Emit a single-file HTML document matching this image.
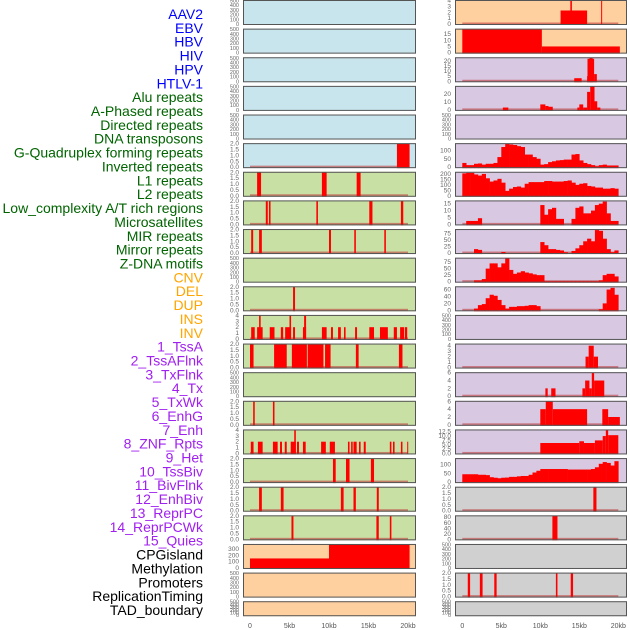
<!DOCTYPE html>
<html><head><meta charset="utf-8"><style>
html,body{margin:0;padding:0;background:#fff;width:630px;height:630px;overflow:hidden}
svg{display:block;font-family:"Liberation Sans",sans-serif}
</style></head><body>
<svg id="chart" width="630" height="630"></svg>
<script>
// labels
const trackLabels=["AAV2","EBV","HBV","HIV","HPV","HTLV-1","Alu repeats","A-Phased repeats","Directed repeats","DNA transposons","G-Quadruplex forming repeats","Inverted repeats","L1 repeats","L2 repeats","Low_complexity A/T rich regions","Microsatellites","MIR repeats","Mirror repeats","Z-DNA motifs","CNV","DEL","DUP","INS","INV","1_TssA","2_TssAFlnk","3_TxFlnk","4_Tx","5_TxWk","6_EnhG","7_Enh","8_ZNF_Rpts","9_Het","10_TssBiv","11_BivFlnk","12_EnhBiv","13_ReprPC","14_ReprPCWk","15_Quies","CPGisland","Methylation","Promoters","ReplicationTiming","TAD_boundary"];
const labelGroups=["v","v","v","v","v","v","r","r","r","r","r","r","r","r","r","r","r","r","r","s","s","s","s","s","c","c","c","c","c","c","c","c","c","c","c","c","c","c","c","o","o","o","o","o"];
const xTickKb=[0,5,10,15,20];
const xTickLabels=["0","5kb","10kb","15kb","20kb"];
// y tick sets
const T500=[0,100,200,300,400,500], T2=[0,0.5,1,1.5,2], T4=[0,1,2,3,4];
// left column y axes (max, ticks) per row
const leftMax=[500,500,500,500,500,2,2,2,2,500,2,4,2,500,2,4,2,2,2,370,500,500];
// left segments [startKb,endKb,value]
const segL5=[[18.6,20.2,2]];
const segL6=[[0.9,1.4,2],[9.1,9.7,2],[13.5,14.0,2]];
const segL7=[[2.0,2.25,2],[2.4,2.6,2],[8.4,8.6,2],[15.1,15.5,2],[19.1,19.4,2]];
const segL8=[[0.15,0.4,2],[1.15,1.5,2],[10,10.25,2],[13.2,13.4,2],[17,17.2,2]];
const segL10=[[5.45,5.7,2]];
const segL11=[[0.15,0.6,2],[0.9,1.6,2],[1.15,1.35,4],[2.5,3.1,2],[3.9,4.2,2],[4.45,5.2,2],[5.0,5.2,4],[5.45,5.7,2],[6.7,7.1,2],[6.85,7.1,4],[9.1,9.7,2],[10.25,10.5,2],[11.15,11.5,2],[11.9,12.1,2],[13.3,13.55,2],[15.1,15.7,2],[16.45,17.45,2],[18.2,18.6,2],[19,19.5,2],[19.6,19.9,2]];
const segL12=[[0,0.45,2],[3.05,4.65,2],[5.3,7.2,2],[7.3,9.3,2],[9.5,10.2,2],[13.4,13.75,2],[18.85,19.3,2]];
const segL14=[[0.4,0.6,2],[2.9,3.1,2]];
const segL15=[[0.1,0.45,2],[1,1.6,2],[2.9,3.5,2],[3.8,4.05,2],[4.4,4.65,2],[5.15,5.8,2],[5.6,5.8,4],[5.95,6.2,2],[6.7,7.05,2],[9.0,9.6,2],[10.1,10.75,2],[12.4,12.6,2],[12.8,13.0,2],[13.1,13.5,2],[13.8,14.0,2],[14.4,14.65,2],[17.7,17.9,2],[18.1,18.3,2],[19.1,19.3,2],[19.9,20,2]];
const segL16=[[10.5,10.85,2],[12.15,12.6,2],[15.3,15.7,2]];
const segL17=[[1.15,1.5,2],[3.9,4.25,2],[11.5,11.85,2],[13.1,13.4,2],[16.05,16.3,2]];
const segL18=[[5.25,5.5,2],[16,16.3,2],[17.7,17.9,2]];
const segL19=[[0,10,150],[10,20.2,370]];
// right column
const rightMax=[4,19,23,30,500,140,215,17,90,90,68,500,4.3,6,6,13.5,135,2,85,500,2,500];
const segR0=[[12.6,16,2.3],[13.85,14.05,4],[17.8,17.9,4]];
const segR1=[[0,10.2,19],[10.2,20.2,5]];
const segR2=[[14.35,15.3,3],[16.0,16.05,5],[16.05,16.9,22],[16.3,16.7,23],[16.9,17.25,7]];
const segR3=[[5.2,5.9,3],[10,10.65,7],[10.65,11.05,5],[11.05,11.6,4],[14.75,15,3],[15,15.5,7],[15.5,16,3],[16,16.4,23],[16.4,16.95,30],[16.95,17.3,11],[17.3,17.7,3]];
const segR12=[[15.8,16.2,2],[16.2,16.85,4],[16.85,17.4,2]];
const segR13=[[10.65,10.95,2],[11.4,11.95,2],[15.4,15.75,2],[15.75,16.3,4],[16.3,16.6,2],[16.6,16.9,6],[16.9,18.2,4]];
const segR14=[[10,10.7,4],[10.7,11.6,6],[11.6,16,4],[17.95,18.7,4],[18.7,20.2,2]];
const segR15=[[10,15,6],[15,15.6,7],[15.6,17,6],[17,18,7.5],[18,18.4,10],[18.4,18.7,13.5],[18.7,20,10.5]];
const segR17=[[16.8,17.2,2]];
const segR18=[[11.55,12.2,85]];
const segR20=[[0.7,1.0,2],[2.25,2.6,2],[4.1,4.4,2],[12,12.2,2],[13.9,14.2,2]];
// binned profiles, 0.5kb bins
const binR5=[25,12,12,20,22,15,20,20,25,60,120,140,135,132,125,120,75,75,60,50,15,18,30,35,40,42,45,45,75,78,40,25,18,12,5,12,15,10,10,10];
const binR6=[205,210,210,195,185,200,160,130,140,155,120,45,65,80,85,75,110,125,125,125,125,135,135,130,130,130,135,140,120,100,110,115,90,85,75,75,65,65,70,65];
const binR7=[0,2.5,2.5,2.5,4.5,0,0,0,0,0,0,0,0,0,0,0,0,0,0,0,14,7,11,12,4,4,0,0,4,12,13,8,8,10,14,15,16.5,8,2.5,2.5];
const binR8=[0,0,0,15,12,0,0,0,0,0,4,0,0,0,0,0,0,0,0,0,42,30,15,15,12,10,3,0,8,18,30,45,55,45,88,85,55,15,3,10];
const binR9=[0,0,0,5,5,10,50,70,70,55,70,90,45,30,35,40,35,32,28,25,25,2,2,2,2,2,2,2,2,2,2,2,2,2,2,5,25,30,30,20];
const binR10=[0,0,0,5,15,18,35,45,42,30,15,5,10,10,12,12,13,15,15,12,0,0,0,0,0,0,0,0,0,0,0,0,0,0,0,3,20,60,65,45];
const binR16=[45,45,45,45,42,42,40,28,25,22,25,26,30,30,33,35,35,42,55,65,75,75,75,75,75,75,75,72,72,72,72,72,72,75,85,105,115,110,95,120];

const leftSegs={5:segL5,6:segL6,7:segL7,8:segL8,10:segL10,11:segL11,12:segL12,14:segL14,15:segL15,16:segL16,17:segL17,18:segL18,19:segL19};
const rightSegs={0:segR0,1:segR1,2:segR2,3:segR3,12:segR12,13:segR13,14:segR14,15:segR15,17:segR17,18:segR18,20:segR20};
const rightBins={5:binR5,6:binR6,7:binR7,8:binR8,9:binR9,10:binR10,16:binR16};
const rightTicks={0:T4,1:[0,5,10,15],2:[0,5,10,15,20],3:[0,10,20],5:[0,50,100],6:[0,50,100,150,200],7:[0,5,10,15],8:[0,25,50,75],9:[0,25,50,75],10:[0,20,40,60],12:T4,13:[0,2,4,6],14:[0,2,4,6],15:[0,2.5,5,7.5,10,12.5],16:[0,50,100],17:T2,18:[0,20,40,60,80],20:T2};
const leftTicks={5:T2,6:T2,7:T2,8:T2,10:T2,11:T4,12:T2,14:T2,15:T4,16:T2,17:T2,18:T2,19:[0,100,200,300]};

const NS="http://www.w3.org/2000/svg";
const svg=document.getElementById('chart');
function mk(tag,attrs,parent){const e=document.createElementNS(NS,tag);for(const k in attrs)e.setAttribute(k,attrs[k]);(parent||svg).appendChild(e);return e;}
const groupColor={v:"#0000ff",r:"#006400",s:"#ffa500",c:"#a020f0",o:"#000000"};
trackLabels.forEach((t,i)=>{
  const e=mk('text',{x:203,y:19+i*13.86,'text-anchor':'end','font-size':'14px',fill:groupColor[labelGroups[i]]});
  e.textContent=t;
  
  
});
const cols=[{x0:243,x1:416,zero:250,scale:7.9,tickX:239},{x0:455,x1:627,zero:462.3,scale:7.8,tickX:451}];
function leftBg(i){return i<6?"#c8e4ec":(i<19?"#c8e0a4":"#ffd09f");}
function rightBg(i){return i<2?"#ffd09f":(i<17?"#d8c8e2":"#d0d0d0");}
function fmt(v,ticks){const dec=ticks.some(t=>t%1!==0&&Math.abs(t*2%1)<1e-9)&&ticks.includes(2)&&ticks.length===5&&ticks[4]===2;
  if(ticks===T2||dec)return v.toFixed(1);
  if(ticks.includes(2.5))return v.toFixed(1);
  return String(v);}
for(let i=0;i<22;i++){
  const top=i*28.63, h=(i===21?15:25), bot=top+h;
  [0,1].forEach(c=>{
    const col=cols[c];
    const g=mk('g',{});
    
    
    mk('rect',{x:col.x0,y:top,width:col.x1-col.x0,height:h,fill:c===0?leftBg(i):rightBg(i)},g);
    const max=c===0?leftMax[i]:rightMax[i];
    let ticks=c===0?(leftTicks[i]||T500):(rightTicks[i]||T500);
    const yOf=v=>bot-1-(v/max)*(h-1.5);
    const xOf=kb=>col.zero+kb*col.scale;
    const segs=c===0?leftSegs[i]:rightSegs[i];
    const bins=c===1?rightBins[i]:null;
    const hasData=!!(segs||bins);
    if(hasData){
      const b=mk('rect',{x:xOf(0),y:bot-2.5,width:xOf(20)-xOf(0),height:2,fill:'#c04040',opacity:0.6},g);
      
      
    }
    if(segs)segs.forEach(s=>{
      const r=mk('rect',{x:xOf(s[0]),y:yOf(s[2]),width:Math.max(1,xOf(s[1])-xOf(s[0])),height:bot-yOf(s[2]),fill:'#ff0000'},g);
      
      
    });
    if(bins)bins.forEach((v,k)=>{
      if(v<=0)return;
      const r=mk('rect',{x:xOf(k*0.5),y:yOf(v),width:xOf(0.5)-xOf(0)+0.3,height:bot-yOf(v),fill:'#ff0000'},g);
      
      
    });
    mk('rect',{x:col.x0+0.5,y:top+0.5,width:col.x1-col.x0-1,height:h-1,fill:'none',stroke:'#555',"stroke-width":1},g);
    const decimals=(ticks===T2||ticks.includes(2.5));
    ticks.forEach(t=>{
      const tt=mk('text',{x:col.tickX,y:yOf(t)+2,'text-anchor':'end','font-size':(ticks===T500?'5.5px':'6.5px'),fill:'#666'},g);
      tt.textContent=decimals?t.toFixed(1):String(t);
      
      
    });
  });
}
[0,1].forEach(c=>{
  const col=cols[c];
  xTickKb.forEach((k,j)=>{
    const t=mk('text',{x:col.zero+k*col.scale,y:628,'text-anchor':'middle','font-size':'7px',fill:'#555'});
    t.textContent=xTickLabels[j];
    
    
  });
});
</script>
</body></html>
